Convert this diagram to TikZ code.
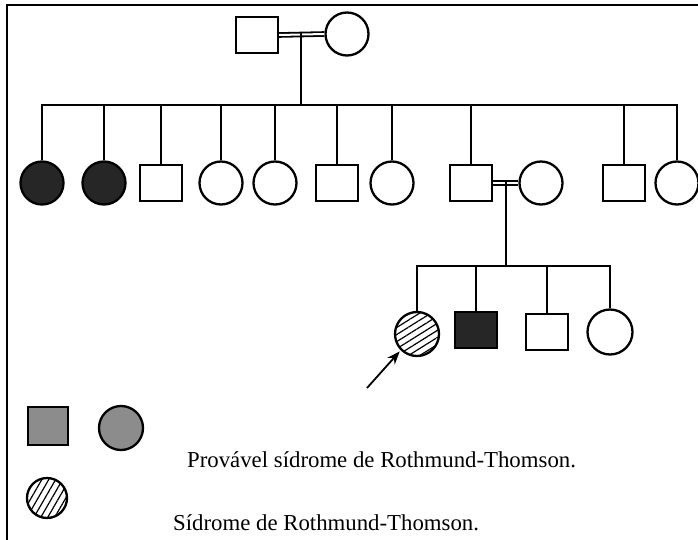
\documentclass[tikz,border=0pt]{standalone}
\usepackage{fontspec}
\setmainfont{Liberation Serif}
\usetikzlibrary{patterns.meta,arrows.meta}
\begin{document}
\begin{tikzpicture}[x=1pt,y=-1pt,line width=2.3pt,
  male/.style={draw,rectangle,minimum width=42pt,minimum height=36pt,inner sep=0pt},
  female/.style={draw,circle,minimum size=43pt,inner sep=0pt},
  affected/.style={fill=black!85},
  probable/.style={fill=black!45},
  hatched/.style={pattern={Lines[angle=32,distance=6pt,line width=1.2pt]}},
  marriage/.style={double,line width=1.8pt,double distance=2pt},
  legtext/.style={anchor=west,font=\fontsize{22.8}{26}\selectfont,inner sep=0pt}]
\useasboundingbox (0,0) rectangle (698,540);
\draw (7,540) -- (7,5) -- (698,5);
% generation I
\node[male] (f1) at (257,35) {};
\node[female] (m1) at (347,34) {};
\draw[marriage] (f1.east) -- (m1.west);
\coordinate (mid1) at (301,32);
\coordinate (s1) at (301,105);
\draw (mid1) -- (s1);
% generation II
\node[female,affected] (c1) at (42,183) {};
\node[female,affected] (c2) at (104,183) {};
\node[male] (c3) at (161,183) {};
\node[female] (c4) at (221,183) {};
\node[female] (c5) at (275,183) {};
\node[male] (c6) at (337,183) {};
\node[female] (c7) at (392,183) {};
\node[male] (c8) at (471,183) {};
\node[female] (sp) at (541,183) {};
\node[male] (c10) at (624,183) {};
\node[female] (c11) at (677,183) {};
\foreach \n in {c1,c2,c3,c4,c5,c6,c7,c8,c10,c11}
  \draw (\n.north) |- (s1);
\draw[marriage] (c8.east) -- (sp.west);
\coordinate (mid2) at (506,181);
\coordinate (s2) at (506,266);
\draw (mid2) -- (s2);
% generation III
\node[female,hatched,minimum size=44pt] (g1) at (417,334) {};
\node[male,affected] (g2) at (476,330) {};
\node[male] (g3) at (547,332) {};
\node[female,minimum size=45pt] (g4) at (610,332) {};
\foreach \n in {g1,g2,g3,g4}
  \draw (\n.north) |- (s2);
\coordinate (arr) at (367,388);
\draw[-{Stealth[length=13pt,width=10pt]},line width=1.8pt,shorten >=2pt] (arr) -- (g1.225);
% legend
\node[male,probable,minimum width=40pt,minimum height=38pt] (l1) at (48,426) {};
\node[female,probable,minimum size=44pt] (l2) at (121,428) {};
\node[female,minimum size=40pt,pattern={Lines[angle=60,distance=6pt,line width=1.2pt]}] (l3) at (47,498) {};
\node[legtext] (t1) at (186,460) {Provável sídrome de Rothmund-Thomson.};
\node[legtext] (t2) at (172,523) {Sídrome de Rothmund-Thomson.};
\end{tikzpicture}
\end{document}
